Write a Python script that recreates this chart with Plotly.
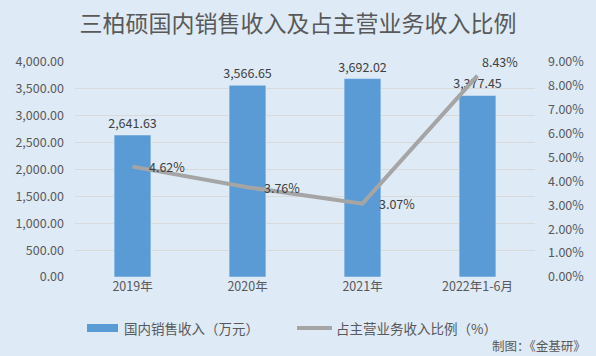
import plotly.graph_objects as go

categories = ["2019年", "2020年", "2021年", "2022年1-6月"]
revenue = [2641.63, 3566.65, 3692.02, 3377.45]
ratio = [4.62, 3.76, 3.07, 8.43]
left_ticks = [0, 500, 1000, 1500, 2000, 2500, 3000, 3500, 4000]
right_ticks = [0, 1, 2, 3, 4, 5, 6, 7, 8, 9]
legend_names = ["国内销售收入（万元）", "占主营业务收入比例（%）"]

FONT = "Noto Sans CJK SC"
TXT = "#595959"
LBL = "#404040"
W, H = 596, 356
L, R, T, B = 75, 61, 62, 79
PW, PH = W - L - R, H - T - B


def px(x):
    return (x - L) / PW


def py(y):
    return (H - B - y) / PH


fig = go.Figure()
fig.add_trace(go.Bar(
    x=categories, y=revenue, name=legend_names[0],
    marker_color="#5B9BD5", width=0.32,
    text=[f"{v:,.2f}" for v in revenue], textposition="outside",
    constraintext="none",
    textfont=dict(size=12.5, color=LBL, family=FONT),
    cliponaxis=False, showlegend=False,
))
fig.add_trace(go.Scatter(
    x=categories, y=ratio, name=legend_names[1], yaxis="y2",
    mode="lines", line=dict(color="#A5A5A5", width=4),
    cliponaxis=False, showlegend=False,
))

shifts = [(34, 0), (34, 0), (34, 0), (22, 14)]
annotations = []
for c, v, (dx, dy) in zip(categories, ratio, shifts):
    annotations.append(dict(x=c, y=v, xref="x", yref="y2", text=f"{v:.2f}%",
                            showarrow=False, xshift=dx, yshift=dy,
                            font=dict(size=12.5, color=LBL, family=FONT)))

# custom legend
shapes = [
    dict(type="rect", xref="paper", yref="paper", x0=px(87), x1=px(118),
         y0=py(332), y1=py(324), fillcolor="#5B9BD5", line=dict(width=0)),
    dict(type="line", xref="paper", yref="paper", x0=px(297), x1=px(332),
         y0=py(328), y1=py(328), line=dict(color="#A5A5A5", width=4)),
]
annotations += [
    dict(text=legend_names[0], xref="paper", yref="paper", x=px(122), y=py(328),
         xanchor="left", yanchor="middle", showarrow=False,
         font=dict(size=13.5, color=TXT, family=FONT)),
    dict(text=legend_names[1], xref="paper", yref="paper", x=px(334), y=py(328),
         xanchor="left", yanchor="middle", showarrow=False,
         font=dict(size=13.5, color=TXT, family=FONT)),
    dict(text="制图：《金基研》", xref="paper", yref="paper",
         x=px(588), y=py(345), xanchor="right", yanchor="middle",
         showarrow=False, font=dict(size=12.5, color=TXT, family=FONT)),
]

fig.update_layout(
    width=W, height=H,
    paper_bgcolor="#DEEAF6", plot_bgcolor="#DEEAF6",
    margin=dict(l=L, r=R, t=T, b=B, autoexpand=False),
    font=dict(family=FONT, size=12, color=TXT),
    title=dict(text="三柏硕国内销售收入及占主营业务收入比例", x=0.5, xanchor="center",
               y=1 - 24 / H, yanchor="middle",
               font=dict(size=23, color=TXT, family=FONT)),
    xaxis=dict(showline=False, ticks="", tickfont=dict(size=12.5, color=TXT)),
    yaxis=dict(range=[0, 4000], tickvals=left_ticks,
               ticktext=[f"{v:,.2f}" for v in left_ticks],
               gridcolor="#D9D9D9", zeroline=False, showline=False,
               tickfont=dict(size=12.5, color=TXT), ticklabelstandoff=10),
    yaxis2=dict(range=[0, 9], tickvals=right_ticks,
                ticktext=[f"{v:.2f}%" for v in right_ticks],
                overlaying="y", side="right", showgrid=False, zeroline=False,
                tickfont=dict(size=12.5, color=TXT), ticklabelstandoff=12),
    showlegend=False,
    shapes=shapes,
    annotations=annotations,
)

fig.write_html("out.html", config={"displayModeBar": False},
               post_script="document.body.style.margin='0';document.body.style.overflow='hidden';")
